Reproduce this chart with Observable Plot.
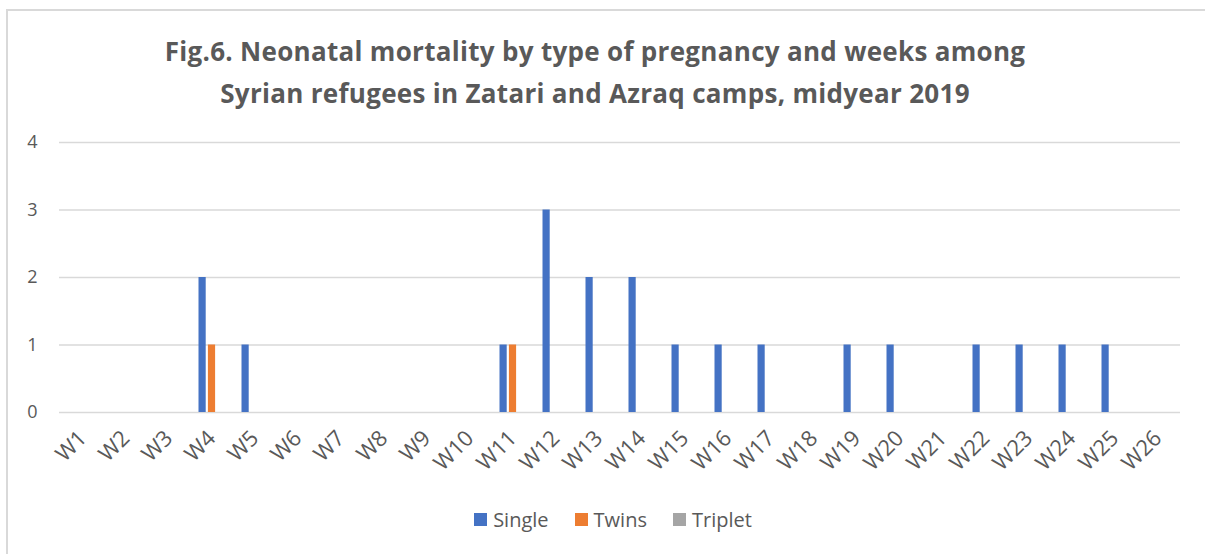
<!DOCTYPE html>
<html>
<head>
<meta charset="utf-8">
<script src="https://cdn.jsdelivr.net/npm/d3@7"></script>
<script src="https://cdn.jsdelivr.net/npm/@observablehq/plot@0.6"></script>
<style>
  html, body { margin: 0; padding: 0; background: #fff; overflow: hidden; }
  #wrap { position: relative; width: 1205px; height: 554px; overflow: hidden; font-family: "Open Sans", "Noto Sans", sans-serif; }
  #frame { position: absolute; left: 6px; top: 9px; width: 1400px; height: 800px; border: 2px solid #d9d9d9; box-sizing: border-box; }
  #title { position: absolute; left: 0; top: 30px; width: 1190px; text-align: center; font-family: "Open Sans", sans-serif; font-weight: bold; font-size: 26px; letter-spacing: 0.3px; line-height: 42px; color: #595959; }
  #legend { position: absolute; left: 0; top: 506px; width: 1226px; display: flex; justify-content: center; gap: 26px; font-size: 20px; color: #595959; }
  #legend span.item { display: flex; align-items: center; gap: 6px; }
  #legend span.sw { display: inline-block; width: 13px; height: 13px; }
  #chart { position: absolute; left: 0; top: 0; }
</style>
</head>
<body>
<div id="wrap">
  <div id="frame"></div>
  <div id="chart"></div>
  <div id="title">Fig.6. Neonatal mortality by type of pregnancy and weeks among<br>Syrian refugees in Zatari and Azraq camps, midyear 2019</div>
  <div id="legend"></div>
</div>
<script>
const weeks = ["W1","W2","W3","W4","W5","W6","W7","W8","W9","W10","W11","W12","W13","W14","W15","W16","W17","W18","W19","W20","W21","W22","W23","W24","W25","W26"];
const single  = [0,0,0,2,1,0,0,0,0,0,1,3,2,2,1,1,1,0,1,1,0,1,1,1,1,0];
const twins   = [0,0,0,1,0,0,0,0,0,0,1,0,0,0,0,0,0,0,0,0,0,0,0,0,0,0];
const triplet = [0,0,0,0,0,0,0,0,0,0,0,0,0,0,0,0,0,0,0,0,0,0,0,0,0,0];
const seriesNames = ["Single","Twins","Triplet"];
const seriesColors = ["#4472C4","#ED7D31","#A5A5A5"];
const yTicks = [0,1,2,3,4];

const seriesValues = [single, twins, triplet];
const rows = seriesNames.map((name, i) => weeks.map((w, j) => ({week: w, type: name, value: seriesValues[i][j]})));
const offsets = [-9.4, 0, 9.4];

const chart = Plot.plot({
  width: 1205,
  height: 554,
  marginLeft: 59,
  marginRight: 25,
  marginTop: 142,
  marginBottom: 142,
  style: {fontFamily: "'Open Sans', 'Noto Sans', sans-serif", color: "#595959", background: "transparent"},
  x: {domain: weeks, padding: 0, label: null},
  y: {domain: [0, 4], label: null},
  marks: [
    Plot.ruleY(yTicks, {stroke: "#d9d9d9", strokeWidth: 1.5}),
    ...rows.map((data, i) => Plot.barY(data, {
      x: "week", y: "value", fill: seriesColors[i],
      insetLeft: 17.9, insetRight: 17.9, dx: offsets[i]
    })),
    Plot.axisY(yTicks, {tickSize: 0, tickPadding: 22, tickFormat: "d", fontSize: 18, fill: "#595959", label: null}),
    Plot.axisX({tickSize: 0, tickRotate: -45, tickPadding: 22, fontSize: 22, fill: "#595959", label: null})
  ]
});
document.getElementById("chart").appendChild(chart);

const legend = document.getElementById("legend");
seriesNames.forEach((n, i) => {
  const item = document.createElement("span");
  item.className = "item";
  item.innerHTML = `<span class="sw" style="background:${seriesColors[i]}"></span><span>${n}</span>`;
  legend.appendChild(item);
});
</script>
</body>
</html>
